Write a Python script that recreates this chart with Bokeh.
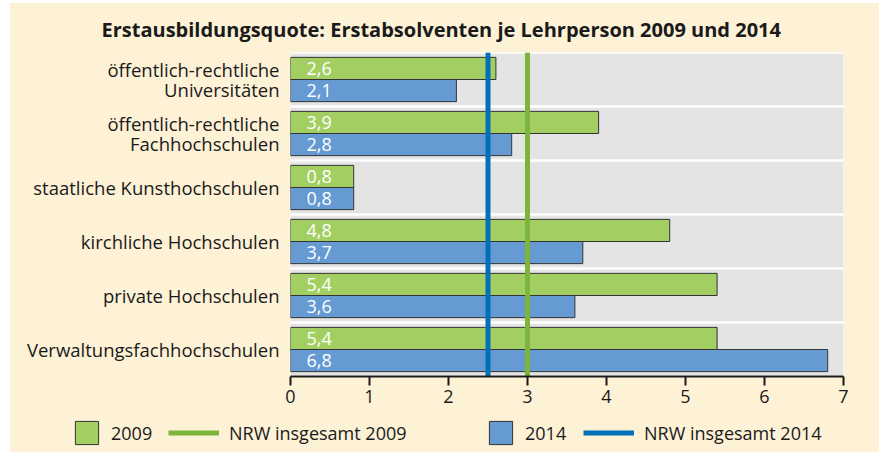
from bokeh.plotting import figure
from bokeh.layouts import column
from bokeh.models import Range1d, ColumnDataSource, Legend, LegendItem, FixedTicker
from bokeh.transform import dodge
from bokeh.core.properties import value
from bokeh.embed import file_html
from bokeh.resources import INLINE

# ---------------- data ----------------
categories = [
    "öffentlich-rechtliche Universitäten",
    "öffentlich-rechtliche Fachhochschulen",
    "staatliche Kunsthochschulen",
    "kirchliche Hochschulen",
    "private Hochschulen",
    "Verwaltungsfachhochschulen",
]
category_label_lines = [
    ["öffentlich-rechtliche", "Universitäten"],
    ["öffentlich-rechtliche", "Fachhochschulen"],
    ["staatliche Kunsthochschulen"],
    ["kirchliche Hochschulen"],
    ["private Hochschulen"],
    ["Verwaltungsfachhochschulen"],
]
values_2009 = [2.6, 3.9, 0.8, 4.8, 5.4, 5.4]
values_2014 = [2.1, 2.8, 0.8, 3.7, 3.6, 6.8]
nrw_2009 = 3.0
nrw_2014 = 2.5
x_ticks = [0, 1, 2, 3, 4, 5, 6, 7]
title_text = "Erstausbildungsquote: Erstabsolventen je Lehrperson 2009 und 2014"

# ---------------- style ----------------
FONT = "Open Sans"
BG = "#FDF1D6"
BAND = "#E4E4E4"
GREEN = "#A3CF62"
BLUE = "#659AD2"
GREEN_LINE = "#7DB43C"
BLUE_LINE = "#0071B9"
TXT = "#1A1A1A"
EDGE = "#333333"
LINE_GAP = 0.37   # vertical spacing of two-line category labels (in band units)


def fmt(v):
    return f"{v:.1f}".replace(".", ",")


n = len(categories)
y_pos = [n - 0.5 - i for i in range(n)]   # first category on top

src = ColumnDataSource(dict(
    y=y_pos,
    v09=values_2009,
    v14=values_2014,
    l09=[fmt(v) for v in values_2009],
    l14=[fmt(v) for v in values_2014],
    zero=[x_ticks[0]] * n,
    xmax=[x_ticks[-1]] * n,
))

# category tick positions / labels (two-line labels get two ticks)
y_ticks = []
y_overrides = {}
for yc, lines in zip(y_pos, category_label_lines):
    k = len(lines)
    for j, line in enumerate(lines):
        t = round(yc + ((k - 1) / 2 - j) * LINE_GAP, 4)
        y_ticks.append(t)
        y_overrides[t] = line

p = figure(
    width=869, height=411,
    x_range=Range1d(x_ticks[0], x_ticks[-1]),
    y_range=Range1d(0, n),
    output_backend="svg", toolbar_location=None,
    min_border_left=280, min_border_right=36, min_border_top=49, min_border_bottom=38,
)
p.frame_align = False
p.background_fill_color = "white"
p.border_fill_color = BG
p.outline_line_color = None
p.xgrid.grid_line_color = None
p.ygrid.grid_line_color = None

p.title.text = title_text
p.title.text_font = FONT
p.title.text_font_size = "20px"
p.title.text_font_style = "bold"
p.title.text_color = TXT
p.title.align = "left"
p.title.offset = -189
p.title.standoff = 20

# gray category bands
p.hbar(y="y", left="zero", right="xmax", height=0.95, source=src,
       fill_color=BAND, line_color=None)


def bars(fig):
    a = fig.hbar(y=dodge("y", 0.205), left="zero", right="v09", height=0.41,
                 source=src, fill_color=GREEN, line_color=EDGE, line_width=1)
    b = fig.hbar(y=dodge("y", -0.205), left="zero", right="v14", height=0.41,
                 source=src, fill_color=BLUE, line_color=EDGE, line_width=1)
    return a, b


bars(p)

for yy, col in ((0.205, "l09"), (-0.205, "l14")):
    p.text(x="zero", y=dodge("y", yy), text=col, source=src,
           x_offset=16, text_baseline="middle", text_align="left", text_color="white",
           text_font=value(FONT), text_font_size="18px")

# NRW reference lines
line_src09 = ColumnDataSource(dict(x=[nrw_2009], y0=[0], y1=[n]))
line_src14 = ColumnDataSource(dict(x=[nrw_2014], y0=[0], y1=[n]))


def nrw_lines(fig):
    b = fig.segment(x0="x", x1="x", y0="y0", y1="y1", source=line_src14,
                    line_color=BLUE_LINE, line_width=5)
    a = fig.segment(x0="x", x1="x", y0="y0", y1="y1", source=line_src09,
                    line_color=GREEN_LINE, line_width=5)
    return a, b


nrw_lines(p)

# axes
p.xaxis.ticker = x_ticks
p.xaxis.axis_line_width = 2
p.xaxis.axis_line_color = TXT
p.xaxis.major_tick_line_width = 2
p.xaxis.major_tick_line_color = TXT
p.xaxis.major_tick_in = 0
p.xaxis.major_tick_out = 9
p.xaxis.minor_tick_line_color = None
p.xaxis.major_label_text_font = FONT
p.xaxis.major_label_text_font_size = "18px"
p.xaxis.major_label_text_color = TXT
p.xaxis.major_label_standoff = 4

p.yaxis.ticker = FixedTicker(ticks=y_ticks)
p.yaxis.major_label_overrides = y_overrides
p.yaxis.axis_line_color = None
p.yaxis.major_tick_line_color = None
p.yaxis.minor_tick_line_color = None
p.yaxis.major_label_standoff = 5
p.yaxis.major_label_text_font = FONT
p.yaxis.major_label_text_font_size = "18.5px"
p.yaxis.major_label_text_color = TXT

# ---------------- legend strip ----------------
# same glyphs, drawn outside this strip's visible ranges; only their legend keys show
lg = figure(width=869, height=38, x_range=Range1d(-2, -1), y_range=Range1d(-2, -1),
            output_backend="svg", toolbar_location=None, min_border=0)
lg.frame_align = False
lg.axis.visible = False
lg.grid.grid_line_color = None
lg.outline_line_color = None
lg.background_fill_color = None
lg.border_fill_color = BG

g09, g14 = bars(lg)
gl09, gl14 = nrw_lines(lg)


def add_legend(label, renderer, x, gw):
    leg = Legend(items=[LegendItem(label=label, renderers=[renderer])],
                 location=(x, 5), orientation="horizontal",
                 glyph_width=gw, glyph_height=29, label_standoff=10,
                 padding=0, margin=0, spacing=0,
                 border_line_color=None, background_fill_alpha=0,
                 label_text_font=FONT, label_text_font_size="18px",
                 label_text_color=TXT, label_text_baseline="middle")
    lg.add_layout(leg, "center")


add_legend("2009", g09, 62, 29)
add_legend("NRW insgesamt 2009", gl09, 158, 51)
add_legend("2014", g14, 476, 29)
add_legend("NRW insgesamt 2014", gl14, 573, 51)

layout = column(p, lg, spacing=0, margin=(3, 0, 0, 10),
                styles={"background-color": BG})
open("out.html", "w").write(file_html(layout, INLINE))
